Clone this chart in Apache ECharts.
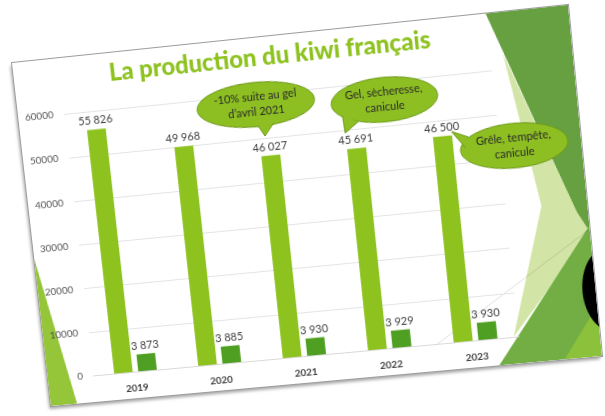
<!DOCTYPE html>
<html>
<head>
<meta charset="utf-8">
<script src="https://cdn.jsdelivr.net/npm/echarts@6/dist/echarts.min.js"></script>
<style>
  html, body { margin: 0; padding: 0; width: 605px; height: 416px; overflow: hidden; background: #fff; }
  #slide { position: absolute; left: 0; top: 0; width: 557px; height: 348px; background: #fff;
           outline: 1px solid #9c9c9c; box-shadow: -2px 3px 3px rgba(0,0,0,0.35); transform-origin: 0 0; }
  #chart { width: 557px; height: 348px; }
</style>
</head>
<body>
<div id="slide"><div id="chart"></div></div>
<script>
// data
const years = ['2019', '2020', '2021', '2022', '2023'];
const production = [55826, 49968, 46027, 45691, 46500];
const second = [3873, 3885, 3930, 3929, 3930];
const notes = ['-10% suite au gel\nd\u2019avril 2021', 'Gel, sècheresse,\ncanicule', 'Grêle, tempête,\ncanicule'];

const W = 557, H = 348;
// corners of the photographed slide (tl, tr, br, bl)
const corners = [[12, 63], [568, 5], [602, 356], [51, 406]];

function homography(src, dst) {
  const A = [], b = [];
  for (let i = 0; i < 4; i++) {
    const [x, y] = src[i], [u, v] = dst[i];
    A.push([x, y, 1, 0, 0, 0, -u * x, -u * y]); b.push(u);
    A.push([0, 0, 0, x, y, 1, -v * x, -v * y]); b.push(v);
  }
  for (let c = 0; c < 8; c++) {
    let p = c;
    for (let r = c + 1; r < 8; r++) if (Math.abs(A[r][c]) > Math.abs(A[p][c])) p = r;
    [A[c], A[p]] = [A[p], A[c]]; [b[c], b[p]] = [b[p], b[c]];
    for (let r = 0; r < 8; r++) {
      if (r === c) continue;
      const f = A[r][c] / A[c][c];
      for (let k = c; k < 8; k++) A[r][k] -= f * A[c][k];
      b[r] -= f * b[c];
    }
  }
  const h = b.map((v, i) => v / A[i][i]);
  return 'matrix3d(' + [h[0], h[3], 0, h[6], h[1], h[4], 0, h[7], 0, 0, 1, 0, h[2], h[5], 0, 1].join(',') + ')';
}
document.getElementById('slide').style.transform =
  homography([[0, 0], [W, 0], [W, H], [0, H]], corners);

const fmt = (p) => String(p.value).replace(/\B(?=(\d{3})+(?!\d))/g, ' ');

function bubble(cx, cy, rx, ry, tail, text) {
  const fill = '#8DBE22', line = '#6E9A1A';
  return [
    { type: 'ellipse', z: 100, shape: { cx: cx, cy: cy, rx: rx, ry: ry },
      style: { fill: fill, stroke: line, lineWidth: 1 } },
    { type: 'polygon', z: 101, shape: { points: tail }, style: { fill: fill } },
    { type: 'polyline', z: 101, shape: { points: tail }, style: { stroke: line, lineWidth: 1, fill: null } },
    { type: 'text', z: 102, x: cx, y: cy,
      style: { text: text, fill: '#2a2a2a', font: '11px Lato', align: 'center', verticalAlign: 'middle', lineHeight: 15 } }
  ];
}

const chart = echarts.init(document.getElementById('chart'));
const option = {
  animation: false,
  textStyle: { fontFamily: 'Lato' },
  title: {
    text: 'La production du kiwi français',
    left: 258, top: 8, textAlign: 'center', padding: 0,
    textStyle: { fontFamily: 'Lato', fontSize: 24, fontWeight: 900, color: '#8DC21F' }
  },
  grid: { left: 47, right: 80, top: 56, bottom: 27, outerBoundsMode: 'none' },
  xAxis: {
    type: 'category', data: years,
    axisLine: { lineStyle: { color: '#d9d9d9' } },
    axisTick: { show: false },
    axisLabel: { color: '#404040', fontSize: 10, fontWeight: 'bold', margin: 12 }
  },
  yAxis: {
    type: 'value', min: 0, max: 60000, interval: 10000,
    axisLabel: { color: '#555', fontSize: 10, margin: 11, formatter: (v) => String(v) },
    splitLine: { lineStyle: { color: '#e4e4e4' } },
    axisLine: { show: false }, axisTick: { show: false }
  },
  series: [
    { type: 'bar', data: production, barWidth: 19, barGap: '30%',
      itemStyle: { color: '#8DC21F' },
      label: { show: true, position: 'top', distance: 3, color: '#404040', fontSize: 11, formatter: fmt } },
    { type: 'bar', data: second, barWidth: 19,
      itemStyle: { color: '#4E9F22' },
      label: { show: true, position: 'top', distance: 3, color: '#404040', fontSize: 11, formatter: fmt } }
  ],
  graphic: [
    // slide decorations
    { type: 'polygon', z: -1, shape: { points: [[476, 0], [557, 0], [557, 236]] }, style: { fill: '#66A040' } },
    { type: 'polygon', z: -1, shape: { points: [[489, 41], [546, 203], [557, 224], [472, 321], [512, 194]] }, style: { fill: '#D3E5A6' } },
    { type: 'polygon', z: -1, shape: { points: [[455, 348], [557, 218], [557, 348]] }, style: { fill: '#72AE43' } },
    { type: 'polygon', z: -1, shape: { points: [[520, 348], [557, 298], [557, 348]] }, style: { fill: '#8CC23B' } },
    { type: 'ellipse', z: -1, shape: { cx: 572, cy: 283, rx: 28, ry: 42 }, style: { fill: '#000' } },
    { type: 'polygon', z: -1, shape: { points: [[0, 198], [0, 348], [27, 348]] }, style: { fill: '#95C63A' } },
    { type: 'line', z: -1, shape: { x1: 396, y1: 321, x2: 556, y2: 222 }, style: { stroke: 'rgba(0,0,0,0.12)', lineWidth: 1 } }
  ].concat(
    bubble(240, 66, 59, 22, [[240, 87], [246, 98], [256, 86]], notes[0]),
    bubble(368, 74, 53, 22, [[325, 86], [326, 103], [340, 93]], notes[1]),
    bubble(491, 132, 53, 22, [[447, 119], [431, 112], [443, 129]], notes[2])
  )
};
chart.setOption(option);
</script>
</body>
</html>
